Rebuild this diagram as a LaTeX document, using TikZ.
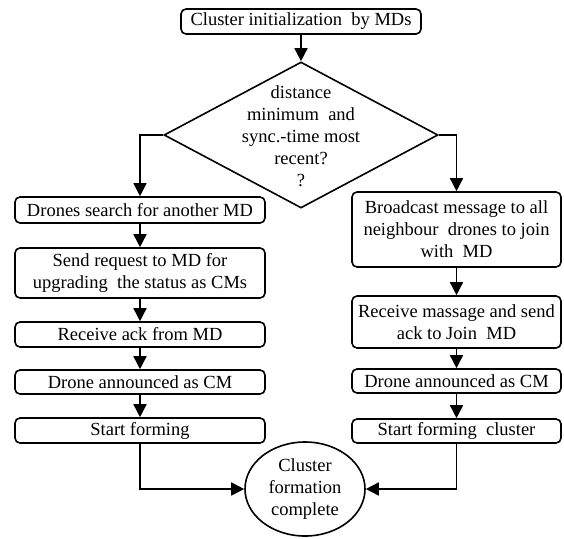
\documentclass[tikz,border=0pt]{standalone}
\usepackage{fontspec}
\setmainfont{Liberation Serif}
\usetikzlibrary{arrows.meta,positioning,shapes.geometric}
\tikzset{
  proc/.style ={draw,rounded corners=5pt,line width=1.6pt,inner sep=2pt,align=center,
                font=\fontsize{18.5}{22}\selectfont},
  cond/.style ={draw,diamond,line width=1.6pt,inner sep=0pt,minimum width=274pt,minimum height=146pt},
  term/.style ={draw,ellipse,line width=1.6pt,inner sep=0pt,minimum width=120pt,minimum height=94pt,
                align=center,font=\fontsize{18.5}{22}\selectfont},
  txt/.style  ={align=center,inner sep=0pt,font=\fontsize{18.5}{22}\selectfont},
  ar/.style   ={-{Triangle[length=13pt,width=13pt]},line width=1.6pt},
}
\begin{document}
\begin{tikzpicture}[x=1pt,y=-1pt]
  \useasboundingbox (0,0) rectangle (564,538);
  \node[proc,minimum width=240pt,minimum height=25pt] (init) at (301,21.5){Cluster initialization~ by MDs};
  \node[cond] (dec) at (301,135){};
  \node[txt] (dectxt) at (301,136){distance\\minimum~ and\\sync.-time most\\recent?\\?};
  % left branch
  \node[proc,minimum width=250pt,minimum height=26pt] (L1) at (140,210){Drones search for another MD};
  \node[proc,minimum width=250pt,minimum height=50pt] (L2) at (140,273){Send request to MD for\\upgrading~ the status as CMs};
  \node[proc,minimum width=250pt,minimum height=25pt] (L3) at (140,334.5){Receive ack from MD};
  \node[proc,minimum width=250pt,minimum height=24pt] (L4) at (140,382){Drone announced as CM};
  \node[proc,minimum width=250pt,minimum height=25pt] (L5) at (140,430.5){Start forming};
  % right branch
  \node[proc,minimum width=209pt,minimum height=75pt] (R1) at (456.5,229.5){Broadcast message to all\\neighbour~ drones to join\\with~ MD};
  \node[proc,minimum width=209pt,minimum height=52pt] (R2) at (456.5,322){Receive massage and send\\ack to Join~ MD};
  \node[proc,minimum width=209pt,minimum height=24pt] (R3) at (456.5,381){Drone announced as CM};
  \node[proc,minimum width=209pt,minimum height=24pt] (R4) at (456.5,431){Start forming~ cluster};
  \node[term] (end) at (305,489){Cluster\\formation\\complete};
  \draw[ar] (init) -- (dec);
  \draw[ar] (dec.west) -| (L1.north);
  \draw[ar] (dec.east) -| (R1.north);
  \foreach \a/\b in {L1/L2,L2/L3,L3/L4,L4/L5,R1/R2,R2/R3,R3/R4}{\draw[ar] (\a) -- (\b);}
  \draw[ar] (L5.south) |- (end.west);
  \draw[ar] (R4.south) |- (end.east);
\end{tikzpicture}
\end{document}
